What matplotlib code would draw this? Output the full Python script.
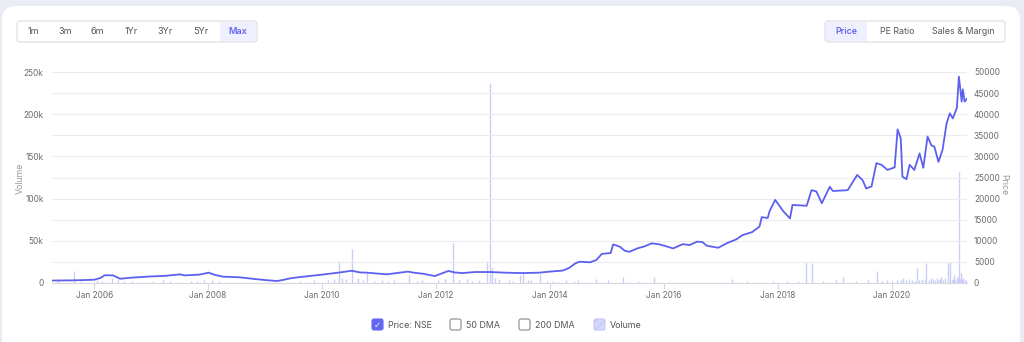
import matplotlib
matplotlib.use("Agg")
import matplotlib.pyplot as plt
import matplotlib.dates as mdates
from matplotlib.patches import FancyBboxPatch
import pandas as pd

# ===== data =====
price_dates = [
    "2005-04-10", "2005-08-01", "2005-11-01", "2006-01-01", "2006-02-10",
    "2006-03-10", "2006-05-01", "2006-05-25", "2006-06-15", "2006-08-20",
    "2006-12-25", "2007-04-01", "2007-07-05", "2007-08-05", "2007-11-10",
    "2008-01-05", "2008-02-15", "2008-04-05", "2008-07-20", "2008-10-25",
    "2009-01-01", "2009-03-20", "2009-05-05", "2009-06-10", "2009-08-10",
    "2010-01-05", "2010-04-25", "2010-07-10", "2010-09-01", "2010-10-15",
    "2011-02-20", "2011-07-05", "2011-08-20", "2011-10-10", "2011-12-25",
    "2012-03-20", "2012-05-01", "2012-06-20", "2012-09-05", "2012-12-15",
    "2013-03-20", "2013-07-10", "2013-10-25", "2014-01-01", "2014-03-25",
    "2014-05-05", "2014-06-15", "2014-07-10", "2014-09-15", "2014-10-25",
    "2014-11-30", "2015-01-25", "2015-02-10", "2015-03-25", "2015-04-25",
    "2015-05-25", "2015-07-15", "2015-09-01", "2015-10-15", "2015-12-05",
    "2016-03-01", "2016-05-01", "2016-06-15", "2016-08-01", "2016-09-05",
    "2016-10-01", "2016-12-15", "2017-02-10", "2017-04-10", "2017-05-20",
    "2017-07-20", "2017-09-05", "2017-09-20", "2017-10-28", "2017-11-10",
    "2017-12-15", "2018-01-15", "2018-02-05", "2018-03-20", "2018-04-05",
    "2018-07-05", "2018-08-05", "2018-09-05", "2018-10-10", "2018-11-30",
    "2018-12-20", "2019-03-25", "2019-05-25", "2019-06-28", "2019-07-22",
    "2019-08-25", "2019-09-25", "2019-10-28", "2019-12-05", "2020-01-20",
    "2020-02-08", "2020-02-28", "2020-03-10", "2020-04-05", "2020-04-25",
    "2020-05-25", "2020-06-28", "2020-07-22", "2020-08-18", "2020-09-12",
    "2020-10-01", "2020-10-27", "2020-11-22", "2020-12-18", "2021-01-08",
    "2021-01-27", "2021-02-22", "2021-03-07", "2021-03-25", "2021-04-01",
    "2021-04-13", "2021-04-27",
]
price_vals = [
    580, 620, 700, 780, 1200,
    1850, 1800, 1400, 1000, 1250,
    1550, 1700, 2050, 1800, 2000,
    2450, 1900, 1500, 1350, 950,
    700, 470, 800, 1100, 1400,
    2000, 2500, 2900, 2500, 2450,
    2050, 2700, 2400, 2200, 1650,
    2850, 2500, 2350, 2600, 2600,
    2450, 2350, 2450, 2700, 2950,
    3600, 4700, 5050, 4900, 5450,
    6900, 7100, 9150, 8600, 7650,
    7400, 8200, 8700, 9400, 9150,
    8200, 9200, 9000, 9800, 9700,
    8850, 8350, 9450, 10350, 11350,
    12050, 13350, 15600, 15400, 17100,
    19700, 18100, 17000, 15300, 18500,
    18300, 22000, 21700, 18900, 22800,
    21800, 22000, 25600, 24400, 22400,
    22900, 28400, 28000, 26800, 27400,
    36400, 34300, 25200, 24600, 28000,
    26800, 30700, 27300, 34700, 32600,
    32300, 28700, 31500, 37800, 40200,
    39000, 41500, 48900, 43000, 45900,
    43000, 43600,
]

vol_dates = [
    "2005-05-15", "2005-08-25", "2005-10-10", "2006-01-20", "2006-04-25",
    "2006-07-10", "2006-10-05", "2007-01-15", "2007-03-20", "2007-06-10",
    "2007-09-15", "2007-12-05", "2008-03-10", "2008-06-15", "2008-09-20",
    "2009-01-10", "2009-05-20", "2009-08-15", "2009-11-10", "2010-02-10",
    "2010-04-20", "2010-06-01", "2010-07-12", "2010-08-20", "2010-10-16",
    "2011-01-20", "2011-04-10", "2011-07-12", "2011-10-05", "2012-01-15",
    "2012-02-25", "2012-04-20", "2012-07-15", "2012-10-01", "2012-11-22",
    "2012-12-13", "2012-12-25", "2013-02-10", "2013-04-15", "2013-06-20",
    "2013-07-15", "2013-09-01", "2013-10-26", "2014-01-20", "2014-04-15",
    "2014-07-01", "2014-10-25", "2015-01-10", "2015-04-15", "2015-07-20",
    "2015-10-31", "2016-02-01", "2016-05-10", "2016-08-15", "2016-11-20",
    "2017-03-10", "2017-06-15", "2017-09-10", "2017-12-01", "2018-03-01",
    "2018-05-10", "2018-06-28", "2018-08-08", "2018-10-20", "2019-01-10",
    "2019-02-22", "2019-05-15", "2019-08-01", "2019-10-01", "2019-12-01",
    "2020-02-01", "2020-03-15", "2020-04-20", "2020-06-10", "2020-07-15",
    "2020-08-08", "2020-09-10", "2020-10-15", "2020-11-15", "2020-12-25",
    "2021-01-10", "2021-02-05", "2021-02-20", "2021-03-08", "2021-03-20",
    "2021-04-05", "2021-04-20",
    # smaller bars filling the low band
    "2006-02-20", "2006-05-30", "2006-09-01", "2007-05-01", "2007-10-20",
    "2008-01-25", "2010-03-15", "2010-05-10", "2010-09-20", "2010-12-01",
    "2011-03-01", "2011-09-01", "2012-05-25", "2012-08-20", "2013-01-15",
    "2013-05-10", "2013-08-15", "2013-12-10", "2014-02-20", "2014-06-01",
    "2019-11-01", "2020-01-05", "2020-03-01", "2020-04-01", "2020-05-10",
    "2020-05-28", "2020-06-25", "2020-07-30", "2020-08-25", "2020-09-25",
    "2020-10-05", "2020-10-28", "2020-11-05", "2020-11-28", "2020-12-10",
    "2021-01-20", "2021-01-30", "2021-02-12", "2021-03-01", "2021-03-14",
    "2021-03-28", "2021-04-12",
]
vol_vals = [
    2500, 14000, 2000, 3000, 6000,
    2500, 1500, 2000, 3500, 1500,
    2500, 3000, 2000, 1500, 1000,
    800, 1200, 2500, 3000, 3500,
    26000, 5000, 40000, 6000, 12000,
    4000, 3000, 9000, 3500, 4000,
    5000, 47000, 4500, 4000, 26000,
    237000, 18000, 5000, 3500, 10000,
    13000, 3000, 11000, 2500, 4000,
    3000, 5000, 3000, 7000, 2500,
    7500, 1500, 1500, 1000, 1500,
    5000, 2000, 1500, 2500, 2000,
    2500, 24500, 23700, 2500, 3000,
    7000, 2500, 3000, 14000, 3000,
    4000, 6000, 5000, 18000, 4500,
    23700, 6000, 5500, 7000, 24000,
    25000, 9000, 7000, 131000, 12000,
    6000, 3000,
    2000, 3500, 1800, 2500, 2200,
    3000, 4500, 6500, 3000, 2500,
    2000, 2800, 3500, 2500, 6000,
    2500, 3000, 2000, 1500, 2500,
    2000, 2500, 3000, 4000, 3500,
    2500, 3000, 4000, 3500, 5000,
    4000, 3500, 4500, 3000, 5500,
    4000, 5000, 3500, 6000, 4500,
    5000, 4000,
]

buttons_left = ["1m", "3m", "6m", "1Yr", "3Yr", "5Yr", "Max"]
buttons_right = ["Price", "PE Ratio", "Sales & Margin"]
legend_items = ["Price: NSE", "50 DMA", "200 DMA", "Volume"]

# ===== figure =====
W, H = 1024, 342
fig = plt.figure(figsize=(W / 100, H / 100), dpi=100, facecolor="#e9ecf3")
plt.rcParams["font.family"] = ["Inter", "DejaVu Sans"]

line_col = "#5d60ee"
bar_col = "#c9cef8"
txt_col = "#6b6b6b"
accent = "#6366f1"


def box(x0, y0, x1, y1, r=3, z=1, **kw):
    # pixel box, y measured from the top
    p = FancyBboxPatch((x0 / 100, (H - y1) / 100), (x1 - x0) / 100, (y1 - y0) / 100,
                       boxstyle="round,pad=0,rounding_size=%f" % (r / 100),
                       transform=fig.dpi_scale_trans, zorder=z, **kw)
    fig.patches.append(p)
    return p


def ftext(x, y, s, **kw):
    fig.text(x / W, 1 - y / H, s, **kw)


# white card
box(2, 6, 1020, 360, r=14, z=-10, facecolor="white", edgecolor="none")

# button groups
box(17, 21, 257, 42, facecolor="white", edgecolor="#d9dce3", linewidth=0.8)
box(220, 22, 256, 41, r=1, z=2, facecolor="#eef0fd", edgecolor="none")
for lab, xc in zip(buttons_left, [33, 65, 97, 131, 165, 201, 238]):
    ftext(xc, 32, lab, ha="center", va="center", fontsize=6.6,
          color=accent if lab == "Max" else "#555555",
          fontweight="semibold" if lab == "Max" else "normal", zorder=3)

box(825, 21, 1005, 42, facecolor="white", edgecolor="#d9dce3", linewidth=0.8)
box(826, 22, 867, 41, r=1, z=2, facecolor="#eef0fd", edgecolor="none")
for lab, xc in zip(buttons_right, [846, 897, 963]):
    ftext(xc, 32, lab, ha="center", va="center", fontsize=6.4,
          color=accent if lab == "Price" else "#555555",
          fontweight="semibold" if lab == "Price" else "normal", zorder=3)

# ===== axes =====
ax = fig.add_axes([52 / W, 1 - 283 / H, (967 - 52) / W, (283 - 72) / H])
ax.set_facecolor("none")
ax2 = ax.twinx()
ax.set_zorder(2)
ax2.set_zorder(3)

# volume as thin vertical bars
vd = pd.to_datetime(vol_dates)
ax.vlines(vd, 0, vol_vals, colors=bar_col, linewidth=1.0, zorder=1)
ax.set_ylim(0, 250000)
ax.set_yticks([0, 50000, 100000, 150000, 200000, 250000])
ax.set_yticklabels(["0", "50k", "100k", "150k", "200k", "250k"])

pdt = pd.to_datetime(price_dates)
ax2.plot(pdt, price_vals, color=line_col, linewidth=1.3, zorder=3)
ax2.set_ylim(0, 50000)
ax2.set_yticks(range(0, 50001, 5000))
ax2.grid(axis="y", color="#ebebf0", linewidth=0.8)
ax2.set_axisbelow(True)

ax.set_xlim(pd.Timestamp("2005-04-05"), pd.Timestamp("2021-04-28"))
ax.xaxis.set_major_locator(mdates.YearLocator(2, month=1, day=1))
ax.xaxis.set_major_formatter(mdates.DateFormatter("Jan %Y"))

for a in (ax, ax2):
    for s in a.spines.values():
        s.set_visible(False)
    a.tick_params(axis="y", length=0, labelsize=6.0, labelcolor=txt_col)
ax.spines["bottom"].set_visible(True)
ax.spines["bottom"].set_color("#d8d8e0")
ax.spines["bottom"].set_linewidth(0.8)
ax.tick_params(axis="x", length=4, color="#d8d8e0", labelsize=6.0,
               labelcolor=txt_col, pad=2)
ax.tick_params(axis="y", pad=6)
ax2.tick_params(axis="y", pad=5)

ftext(20, 178, "Volume", rotation=90, ha="center", va="center",
      fontsize=6.3, color="#999999")
ftext(1004, 185, "Price", rotation=270, ha="center", va="center",
      fontsize=6.3, color="#999999")

# ===== legend =====
lx = [372, 450, 519, 594]
for i, (lab, x0) in enumerate(zip(legend_items, lx)):
    if i == 0:
        box(x0, 319, x0 + 11, 330, r=2, facecolor=accent, edgecolor=accent, linewidth=0.8)
        ftext(x0 + 5.5, 325, "\u2713", ha="center", va="center", fontsize=6,
              color="white", family="DejaVu Sans", fontweight="bold")
    elif i == 3:
        box(x0, 319, x0 + 11, 330, r=2, facecolor="#d3d7fa", edgecolor="#c4c9f6",
            linewidth=0.8, hatch="////")
    else:
        box(x0, 319, x0 + 11, 330, r=2, facecolor="white", edgecolor="#8a8a8a",
            linewidth=0.8)
    ftext(x0 + 16, 325, lab, ha="left", va="center", fontsize=6.4, color="#555555")

fig.savefig("out.png", dpi=100, facecolor=fig.get_facecolor())
